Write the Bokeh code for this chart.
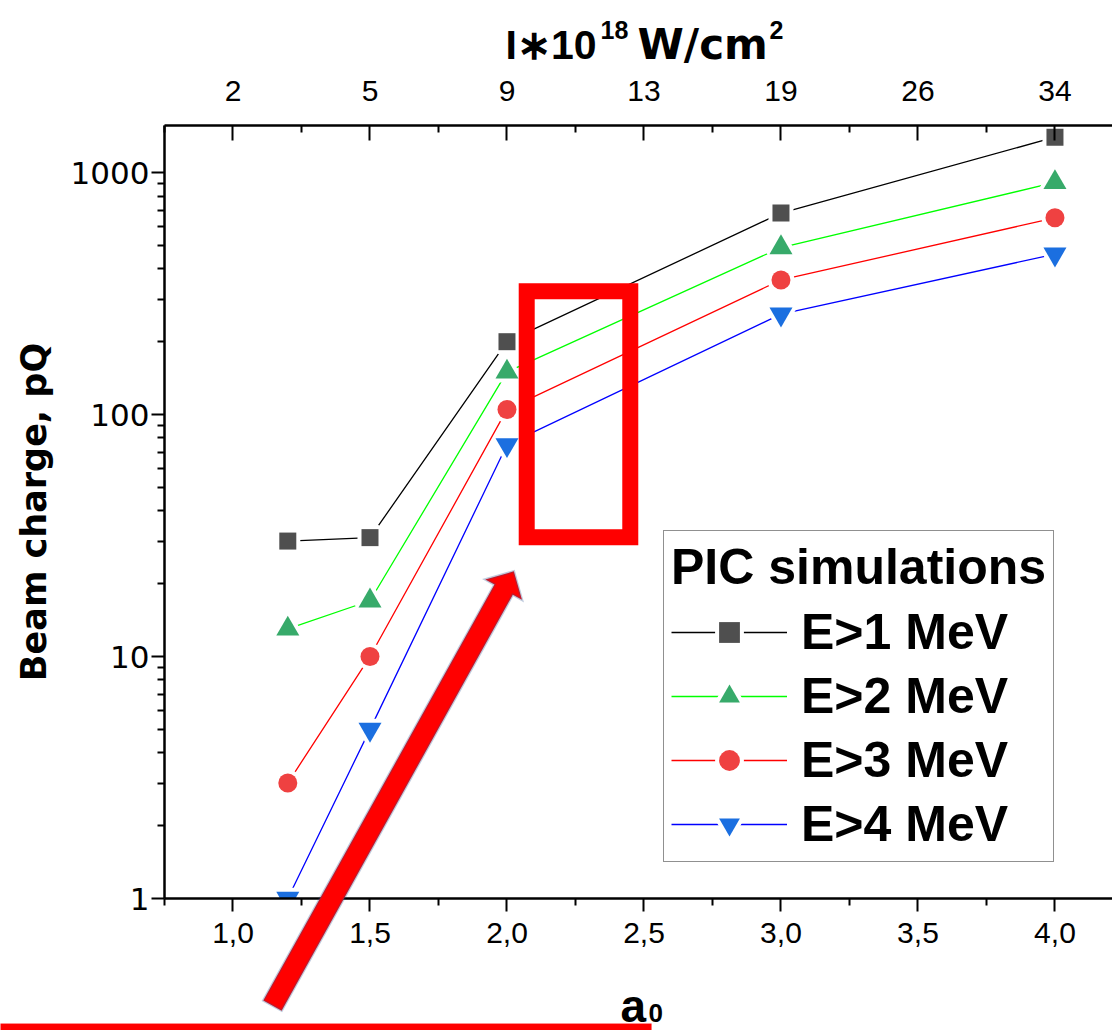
import math
from bokeh.plotting import figure
from bokeh.layouts import column
from bokeh.models import (Range1d, LinearAxis, FixedTicker, Legend, LegendItem,
                          BoxAnnotation, PolyAnnotation, Label)
from bokeh.embed import file_html
from bokeh.resources import INLINE

# ---------------- data ----------------
a0 = [1.2, 1.5, 2.0, 3.0, 4.0]
charge_e1 = [30, 31, 200, 680, 1400]
charge_e2 = [13, 17, 150, 490, 910]
charge_e3 = [3.0, 10, 105, 360, 650]
charge_e4 = [1.0, 5.0, 75, 260, 460]
series_labels = ["E>1 MeV", "E>2 MeV", "E>3 MeV", "E>4 MeV"]
legend_title = "PIC simulations"

x_major_ticks = [1.0, 1.5, 2.0, 2.5, 3.0, 3.5, 4.0]
x_minor_ticks = [0.75, 1.25, 1.75, 2.25, 2.75, 3.25, 3.75]
x_tick_labels = ["1,0", "1,5", "2,0", "2,5", "3,0", "3,5", "4,0"]
intensity_tick_labels = ["2", "5", "9", "13", "19", "26", "34"]
y_major_ticks = [1, 10, 100, 1000]
y_minor_ticks = [m * 10 ** k for k in range(3) for m in range(2, 10)]
y_tick_labels = ["1", "10", "100", "1000"]

y_title = "Beam charge, pQ"
# top title "I*10^18 W/cm^2" and bottom title "a_0" (base text, raised/lowered text)
top_title_parts = ["I\u221710", "18", "W/cm", "2"]
x_title_parts = ["a", "0"]

# annotation geometry (data units)
highlight_a0 = [2.072, 2.450]
highlight_q = [31.1, 323.0]
arrow_tail = [1.144, 0.361]
arrow_tip = [2.025, 22.5]
underline_a0 = [0.15, 2.527]
underline_q = [0.282, 0.304]

# ---------------- layout ----------------
W, H = 1112, 1030
FL, FR, FT, FB = 164, 1112, 125, 898
X0, X1 = 0.75, 4.21
Y0, Y1 = 1.0, 1565.0
PPX = (FR - FL) / (X1 - X0)
PPD = (FB - FT) / math.log10(Y1 / Y0)


def x2px(x):
    return FL + (x - X0) * PPX


def y2px(y):
    return FB - math.log10(y / Y0) * PPD


def px2x(px):
    return X0 + (px - FL) / PPX


def px2y(py):
    return Y0 * 10 ** ((FB - py) / PPD)


p = figure(width=W, height=H, y_axis_type="log",
           x_range=Range1d(X0, X1), y_range=Range1d(Y0, Y1),
           output_backend="svg", toolbar_location=None,
           min_border_left=FL, min_border_right=0,
           min_border_top=FT, min_border_bottom=H - FB)
p.xgrid.visible = False
p.ygrid.visible = False
p.outline_line_color = None
p.background_fill_color = "white"
p.border_fill_color = "white"

TICK_FONT = "Liberation Sans"
TITLE_FONT = "DejaVu Sans"


def style_axis(ax, tick_out, tick_in, minor_out, minor_in):
    ax.major_tick_out = tick_out
    ax.major_tick_in = tick_in
    ax.minor_tick_out = minor_out
    ax.minor_tick_in = minor_in
    ax.axis_line_width = 2.5
    ax.axis_line_color = "black"
    ax.major_tick_line_width = 2
    ax.minor_tick_line_width = 2
    ax.major_label_text_color = "black"


xa = p.xaxis[0]
xa.ticker = FixedTicker(ticks=x_major_ticks, minor_ticks=x_minor_ticks)
xa.major_label_overrides = dict(zip(x_major_ticks, x_tick_labels))
style_axis(xa, 13, 0, 7, 0)
xa.major_label_text_font = TICK_FONT
xa.major_label_text_font_size = "30px"
xa.major_label_standoff = 11

top = LinearAxis(ticker=FixedTicker(ticks=x_major_ticks, minor_ticks=x_minor_ticks),
                 major_label_overrides=dict(zip(x_major_ticks, intensity_tick_labels)))
style_axis(top, 0, 15, 0, 7)
top.major_label_text_font = TICK_FONT
top.major_label_text_font_size = "30px"
top.major_label_standoff = 25
p.add_layout(top, "above")

ya = p.yaxis[0]
ya.ticker = FixedTicker(ticks=y_major_ticks, minor_ticks=y_minor_ticks)
ya.major_label_overrides = dict(zip(y_major_ticks, y_tick_labels))
style_axis(ya, 13, 0, 7, 0)
ya.major_label_text_font = "DejaVu Sans"
ya.major_label_text_font_size = "31px"
ya.major_label_standoff = 2
ya.axis_label = y_title
ya.axis_label_text_font = TITLE_FONT
ya.axis_label_text_font_style = "bold"
ya.axis_label_text_color = "black"
ya.axis_label_text_font_size = "35px"
ya.axis_label_standoff = 14

# ---------------- series ----------------
series = [charge_e1, charge_e2, charge_e3, charge_e4]
line_colors = ["#000000", "#00ff00", "#ff0000", "#0000ff"]
marker_colors = ["#4f4f4f", "#37aa6a", "#ef4141", "#1b6fe0"]
markers = ["square", "triangle", "circle", "inverted_triangle"]
marker_sizes = [17, 23, 19, 23]

items = []
for vals, lc, mc, mk, ms, lab in zip(series, line_colors, marker_colors, markers,
                                     marker_sizes, series_labels):
    lr = p.line(a0, vals, line_color=lc, line_width=1.3)
    gap = p.scatter(a0, vals, marker=mk, size=ms, fill_color="white",
                    line_color="white", line_width=8)
    sr = p.scatter(a0, vals, marker=mk, size=ms, fill_color=mc, line_color=None)
    items.append(LegendItem(label=lab, renderers=[lr, gap, sr]))

legend = Legend(items=items, location=(499, 36), title=legend_title)
legend.title_text_font = "Liberation Sans"
legend.title_text_font_size = "50px"
legend.title_text_font_style = "bold"
legend.title_text_color = "black"
legend.title_standoff = 6
legend.label_text_font = "Liberation Sans"
legend.label_text_font_size = "50px"
legend.label_text_font_style = "bold"
legend.label_text_color = "black"
legend.label_standoff = 14
legend.glyph_width = 116
legend.glyph_height = 52
legend.label_height = 60
legend.spacing = 4
legend.padding = 7
legend.margin = 0
legend.border_line_color = "#222222"
legend.border_line_width = 1.5
legend.background_fill_color = "white"
legend.background_fill_alpha = 1.0
p.add_layout(legend)

box = BoxAnnotation(left=highlight_a0[0], right=highlight_a0[1],
                    bottom=highlight_q[0], top=highlight_q[1],
                    fill_alpha=0, line_color="#ff0000", line_width=16,
                    line_alpha=1, line_join="miter", level="overlay")
p.add_layout(box)

# ---------------- transparent overlay (same data mapping, unclipped region) ----------------
# In the column its frame is aligned with the main frame (164 px left border, 948 px wide);
# shifting it left by 164 px makes the frame cover page x = 0 ... 948, y = 0 ... 1030.
SHIFT = FL
OV_FRAME_W = FR - FL
ov = figure(width=W + SHIFT, height=H, y_axis_type="log",
            x_range=Range1d(px2x(0), px2x(OV_FRAME_W)), y_range=Range1d(px2y(H), px2y(0)),
            x_axis_location=None, y_axis_location=None,
            output_backend="svg", toolbar_location=None,
            min_border_left=SHIFT, min_border_right=0,
            min_border_top=0, min_border_bottom=0)
ov.grid.visible = False
ov.outline_line_color = None
ov.background_fill_alpha = 0
ov.border_fill_alpha = 0
ov.styles = {"position": "absolute", "top": "0px", "left": f"-{SHIFT}px", "z-index": "2"}


def arrow_polygon():
    tx, ty = x2px(arrow_tail[0]), y2px(arrow_tail[1])
    hx, hy = x2px(arrow_tip[0]), y2px(arrow_tip[1])
    L = math.hypot(hx - tx, hy - ty)
    ux, uy = (hx - tx) / L, (hy - ty) / L
    nx, ny = -uy, ux
    SW, HW, HL = 10.5, 21.0, 21.0
    bx, by = hx - ux * HL, hy - uy * HL
    pts = [(tx + nx * SW, ty + ny * SW), (bx + nx * SW, by + ny * SW),
           (bx + nx * HW, by + ny * HW), (hx, hy),
           (bx - nx * HW, by - ny * HW), (bx - nx * SW, by - ny * SW),
           (tx - nx * SW, ty - ny * SW)]
    return [px2x(a) for a, b in pts], [px2y(b) for a, b in pts]


ov.add_layout(PolyAnnotation(
    xs=[underline_a0[0], underline_a0[1], underline_a0[1], underline_a0[0]],
    ys=[underline_q[0], underline_q[0], underline_q[1], underline_q[1]],
    xs_units="data", ys_units="data", fill_color="#ff0000", fill_alpha=1,
    line_color="#ff0000", line_width=1, level="overlay"))
axs, ays = arrow_polygon()
ov.add_layout(PolyAnnotation(
    xs=axs, ys=ays, xs_units="data", ys_units="data",
    fill_color="#ff0000", fill_alpha=1, line_color="#2f528f",
    line_width=2.5, line_join="miter", level="overlay"))

TEXT_DY = 12  # labels render about this much below their anchor


def add_text(txt, px, py, size, font="Liberation Sans"):
    ov.add_layout(Label(x=px2x(px), y=px2y(py - TEXT_DY), text=txt, text_font=font,
                        text_font_style="bold", text_font_size=size,
                        text_color="black", text_align="left",
                        text_baseline="alphabetic", level="overlay"))


# top axis title  I*10^18 W/cm^2
add_text(top_title_parts[0], 505, 56, "41px")
add_text(top_title_parts[1], 600, 41, "25px")
add_text(top_title_parts[2], 637, 56, "42px", font="DejaVu Sans")
add_text(top_title_parts[3], 769, 41, "25px")
# bottom axis title  a_0
add_text(x_title_parts[0], 620, 1017, "46px")
add_text(x_title_parts[1], 648, 1024, "26px")

layout = column(p, ov, styles={"position": "relative"})

open("out.html", "w").write(file_html(layout, INLINE))
